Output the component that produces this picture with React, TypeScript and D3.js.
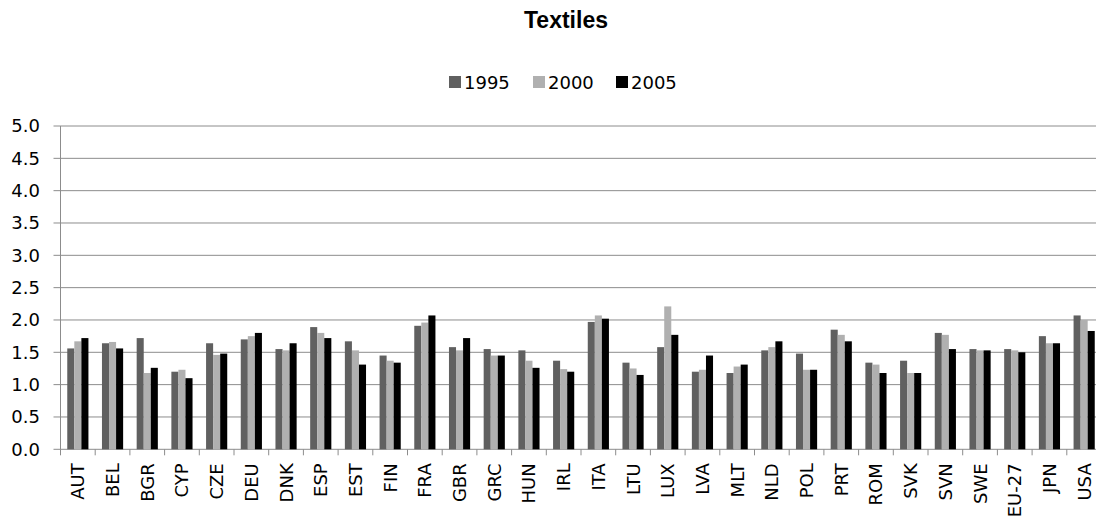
import React from "react";
import * as d3 from "d3";

const categories = ["AUT","BEL","BGR","CYP","CZE","DEU","DNK","ESP","EST","FIN","FRA","GBR","GRC","HUN","IRL","ITA","LTU","LUX","LVA","MLT","NLD","POL","PRT","ROM","SVK","SVN","SWE","EU-27","JPN","USA"];
const seriesNames = ["1995","2000","2005"];
const v1995 = [1.56,1.64,1.72,1.20,1.64,1.70,1.55,1.89,1.67,1.45,1.91,1.58,1.55,1.53,1.37,1.97,1.34,1.58,1.20,1.18,1.53,1.48,1.85,1.34,1.37,1.80,1.55,1.55,1.75,2.07];
const v2000 = [1.67,1.66,1.18,1.23,1.46,1.75,1.53,1.80,1.53,1.37,1.96,1.53,1.45,1.37,1.24,2.07,1.25,2.21,1.23,1.28,1.58,1.23,1.77,1.31,1.18,1.77,1.53,1.53,1.64,2.00];
const v2005 = [1.72,1.56,1.26,1.10,1.48,1.80,1.64,1.72,1.31,1.34,2.07,1.72,1.45,1.26,1.20,2.02,1.15,1.77,1.45,1.31,1.67,1.23,1.67,1.18,1.18,1.55,1.53,1.50,1.64,1.83];
const yTicks = [0,0.5,1,1.5,2,2.5,3,3.5,4,4.5,5];
const colors = ["#606060","#b0b0b0","#000000"];
const legendX = [449, 533, 616];

export default function App() {
  const W = 1096, H = 522;
  const left = 60.5, right = 1101.5, top = 126, bottom = 449.3;
  const series = [v1995, v2000, v2005];
  const x = d3.scaleBand<string>().domain(categories).range([left, right]).paddingInner(0.39).paddingOuter(0.195);
  const xs = d3.scaleBand<string>().domain(seriesNames).range([0, x.bandwidth()]);
  const y = d3.scaleLinear().domain([0, 5]).range([bottom, top]);
  const step = x.step();
  const font = "'DejaVu Sans', Verdana, sans-serif";
  const fs = 18;
  return (
    <svg width={W} height={H} style={{ position: "absolute", left: 0, top: 0, background: "#fff" }}>
      <text x={566} y={28} textAnchor="middle" fontFamily="Arial, 'Liberation Sans', sans-serif" fontWeight="bold" fontSize={23}>Textiles</text>
      {seriesNames.map((s, i) => {
        const lx = legendX[i];
        return (
          <g key={s}>
            <rect x={lx} y={76} width={12} height={12} fill={colors[i]} />
            <text x={lx + 15} y={89} fontFamily={font} fontSize={fs} fill="#000">{s}</text>
          </g>
        );
      })}
      {yTicks.map(t => (
        <g key={t}>
          <line x1={left - 7} x2={right} y1={y(t)} y2={y(t)} stroke="#8c8c8c" strokeWidth={1} />
          <text x={40} y={y(t)} dy="0.36em" textAnchor="end" fontFamily={font} fontSize={fs} fill="#000">{t.toFixed(1)}</text>
        </g>
      ))}
      <line x1={left} x2={left} y1={top} y2={bottom} stroke="#8c8c8c" />
      {categories.map((c, i) => (
        <line key={"t" + c} x1={left + i * step} x2={left + i * step} y1={bottom} y2={bottom + 6} stroke="#8c8c8c" />
      ))}
      <line x1={left + categories.length * step} x2={left + categories.length * step} y1={bottom} y2={bottom + 6} stroke="#8c8c8c" />
      {categories.map((c, i) => (
        <g key={c}>
          {series.map((vals, j) => (
            <rect key={j} x={(x(c) as number) + (xs(seriesNames[j]) as number)} y={y(vals[i])} width={xs.bandwidth()} height={bottom - y(vals[i])} fill={colors[j]} />
          ))}
        </g>
      ))}
      {categories.map(c => {
        const cx = (x(c) as number) + x.bandwidth() / 2;
        return (
          <text key={"l" + c} transform={`translate(${cx},${bottom + 14}) rotate(-90)`} textAnchor="end" dy="0.36em" fontFamily={font} fontSize={fs} fill="#000">{c}</text>
        );
      })}
    </svg>
  );
}
